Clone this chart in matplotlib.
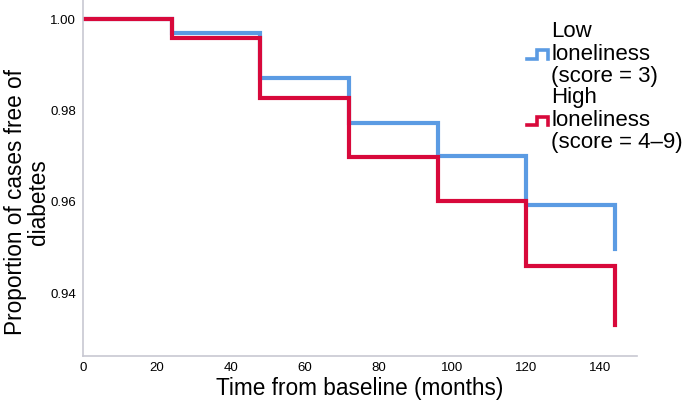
import matplotlib
matplotlib.use('Agg')
import matplotlib.pyplot as plt
from matplotlib.legend_handler import HandlerBase
from matplotlib.lines import Line2D

# Kaplan-Meier style step data (months, proportion free of diabetes)
months = [0, 24, 48, 72, 96, 120, 144]
low_lonely = [1.0, 0.9969, 0.9872, 0.9772, 0.9701, 0.9593, 0.9497]
high_lonely = [1.0, 0.9959, 0.9828, 0.9697, 0.9602, 0.9459, 0.9329]

labels = ['Low\nloneliness\n(score = 3)', 'High\nloneliness\n(score = 4\u20139)']
colors = ['#5b9be3', '#d8093b']

x_ticks = [0, 20, 40, 60, 80, 100, 120, 140]
y_ticks = [0.94, 0.96, 0.98, 1.00]

plt.rcParams['font.family'] = ['Liberation Sans', 'DejaVu Sans']


class StepHandler(HandlerBase):
    """Draw a little step glyph as legend key."""
    def create_artists(self, legend, orig, xd, yd, width, height, fontsize, trans):
        xs = [0, 0.45 * width, 0.45 * width, width, width]
        ys = [0.2 * height, 0.2 * height, 0.75 * height, 0.75 * height, 0.2 * height]
        ln = Line2D([x - xd for x in xs], [y - yd for y in ys],
                    color=orig.get_color(), lw=2.6, solid_joinstyle='miter')
        ln.set_transform(trans)
        return [ln]


fig = plt.figure(figsize=(6.85, 4.03), dpi=100)
ax = fig.add_axes([0.1212, 0.1166, 0.809, 0.8834])

h1, = ax.step(months, low_lonely, where='post', color=colors[0], lw=3,
              solid_joinstyle='miter')
h2, = ax.step(months, high_lonely, where='post', color=colors[1], lw=3,
              solid_joinstyle='miter')

ax.set_xlim(0, 150)
ax.set_ylim(0.9262, 1.0042)
ax.set_xticks(x_ticks)
ax.set_yticks(y_ticks)
ax.set_yticklabels(['%.2f' % v for v in y_ticks])
ax.tick_params(length=0, labelsize=9.5)
ax.tick_params(axis='x', pad=4)
ax.tick_params(axis='y', pad=5)

for s in ['top', 'right']:
    ax.spines[s].set_visible(False)
for s in ['left', 'bottom']:
    ax.spines[s].set_color('#c8c8d2')
    ax.spines[s].set_linewidth(1.2)

fig.text(360 / 685, 1 - 388 / 403, 'Time from baseline (months)', fontsize=16.3,
         ha='center', va='center')
fig.text(27 / 685, 1 - 202 / 403, 'Proportion of cases free of\ndiabetes',
         fontsize=16.3, ha='center', va='center', rotation=90,
         multialignment='center', linespacing=0.95)

leg = fig.legend([h1, h2], labels, handler_map={Line2D: StepHandler()},
                 loc='upper left', bbox_to_anchor=(527 / 685, 1 - 21 / 403),
                 frameon=False, fontsize=16, handlelength=0.95,
                 handletextpad=0.15, labelspacing=0.0, borderaxespad=0,
                 borderpad=0)
for t in leg.get_texts():
    t.set_linespacing(1.1)

fig.savefig('out.png', dpi=100)
